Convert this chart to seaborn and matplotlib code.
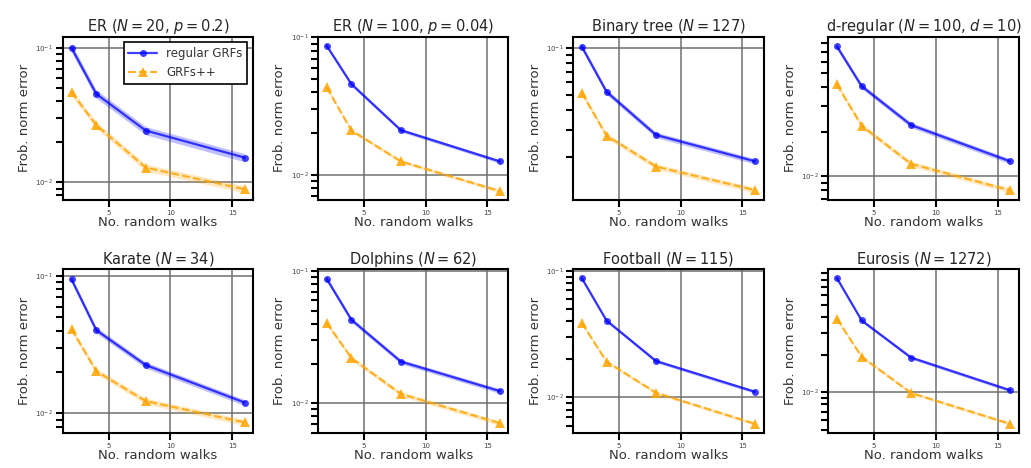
import matplotlib.pyplot as plt
import matplotlib.ticker as tck
import seaborn as sns
import numpy as np

# number of random walks (x values shared by every panel)
walks = [2, 4, 8, 16]

titles = [
    r"ER ($N = 20$, $p = 0.2$)",
    r"ER ($N = 100$, $p = 0.04$)",
    r"Binary tree ($N = 127$)",
    r"d-regular ($N = 100$, $d = 10$)",
    r"Karate ($N = 34$)",
    r"Dolphins ($N = 62$)",
    r"Football ($N = 115$)",
    r"Eurosis ($N = 1272$)",
]

# mean Frobenius norm error, regular GRFs
regular_er20 = [0.100, 0.0455, 0.0243, 0.0153]
regular_er100 = [0.087, 0.0457, 0.0211, 0.0125]
regular_tree = [0.1016, 0.0523, 0.0277, 0.0188]
regular_dreg = [0.076, 0.0408, 0.0222, 0.0126]
regular_karate = [0.0945, 0.0404, 0.0225, 0.0120]
regular_dolphins = [0.0873, 0.0428, 0.0207, 0.0124]
regular_football = [0.0875, 0.0405, 0.0194, 0.0111]
regular_eurosis = [0.0823, 0.0377, 0.0190, 0.0104]

# mean Frobenius norm error, GRFs++
plus_er20 = [0.0468, 0.0267, 0.0129, 0.0089]
plus_er100 = [0.0432, 0.0210, 0.0125, 0.0076]
plus_tree = [0.0515, 0.0274, 0.0174, 0.0123]
plus_dreg = [0.0419, 0.0220, 0.0121, 0.0080]
plus_karate = [0.0411, 0.0203, 0.0123, 0.0086]
plus_dolphins = [0.0406, 0.0220, 0.0118, 0.0071]
plus_football = [0.0388, 0.0192, 0.0109, 0.0062]
plus_eurosis = [0.0389, 0.0193, 0.0099, 0.0056]

# relative spread of the shaded band (fraction of the mean)
spread_regular = [0.07, 0.03, 0.04, 0.04, 0.05, 0.04, 0.03, 0.03]
spread_plus = [0.06, 0.03, 0.04, 0.04, 0.05, 0.04, 0.03, 0.03]

regular = [regular_er20, regular_er100, regular_tree, regular_dreg,
           regular_karate, regular_dolphins, regular_football, regular_eurosis]
plus = [plus_er20, plus_er100, plus_tree, plus_dreg,
        plus_karate, plus_dolphins, plus_football, plus_eurosis]

BLUE = "#0000ff"
ORANGE = "#ffa500"

# minor log ticks at 2..9 x 10^k
MINOR_LOCS = [m * 10.0 ** k for k in range(-4, 1) for m in range(2, 10)]

sns.set_style("ticks")
plt.rcParams['font.family'] = ['DejaVu Sans']

fig, axes = plt.subplots(2, 4, figsize=(10.31, 4.68), dpi=100)
fig.subplots_adjust(left=0.061, right=0.988, top=0.922, bottom=0.075,
                    wspace=0.34, hspace=0.42)

for i, ax in enumerate(axes.flat):
    reg = np.array(regular[i])
    pp = np.array(plus[i])
    # shaded bands
    ax.fill_between(walks, reg * (1 - spread_regular[i]), reg * (1 + spread_regular[i]),
                    color=BLUE, alpha=0.25, linewidth=0)
    ax.fill_between(walks, pp * (1 - spread_plus[i]), pp * (1 + spread_plus[i]),
                    color=ORANGE, alpha=0.25, linewidth=0)
    sns.lineplot(x=walks, y=regular[i], ax=ax, color=BLUE, marker="o", markersize=5,
                 markeredgewidth=0, linewidth=1.6, alpha=0.75, label="regular GRFs")
    sns.lineplot(x=walks, y=plus[i], ax=ax, color=ORANGE, marker="^", markersize=7.5,
                 markeredgewidth=0, linewidth=1.5, linestyle="--", alpha=0.85,
                 label="GRFs++")
    ax.set_yscale("log")
    ax.yaxis.set_minor_locator(tck.FixedLocator(MINOR_LOCS))
    ax.yaxis.set_minor_formatter(tck.NullFormatter())
    ax.xaxis.set_major_locator(tck.MultipleLocator(5))
    ax.grid(True, which="major", color="#707070", linewidth=1.1)
    ax.grid(False, which="minor")
    ax.tick_params(axis="both", which="major", labelsize=5, length=5, width=1.5,
                   color="black", labelcolor="#444444", pad=2)
    ax.tick_params(axis="y", which="minor", left=True, length=5, width=1.5,
                   color="black")
    for sp in ax.spines.values():
        sp.set_linewidth(1.5)
        sp.set_color("black")
    ax.set_title(titles[i], fontsize=10.5, pad=4)
    ax.set_xlabel("No. random walks", fontsize=9.5, labelpad=0, color="#333333")
    ax.set_ylabel("Frob. norm error", fontsize=9.5, labelpad=3, color="#333333")
    if i == 0:
        leg = ax.legend(loc="upper right", fontsize=8.5, fancybox=False,
                        framealpha=1, borderpad=0.4, handlelength=2.4,
                        labelcolor="#333333")
        leg.get_frame().set_edgecolor("black")
        leg.get_frame().set_linewidth(1.2)
    else:
        ax.get_legend().remove()

fig.savefig("out.png", dpi=100)
